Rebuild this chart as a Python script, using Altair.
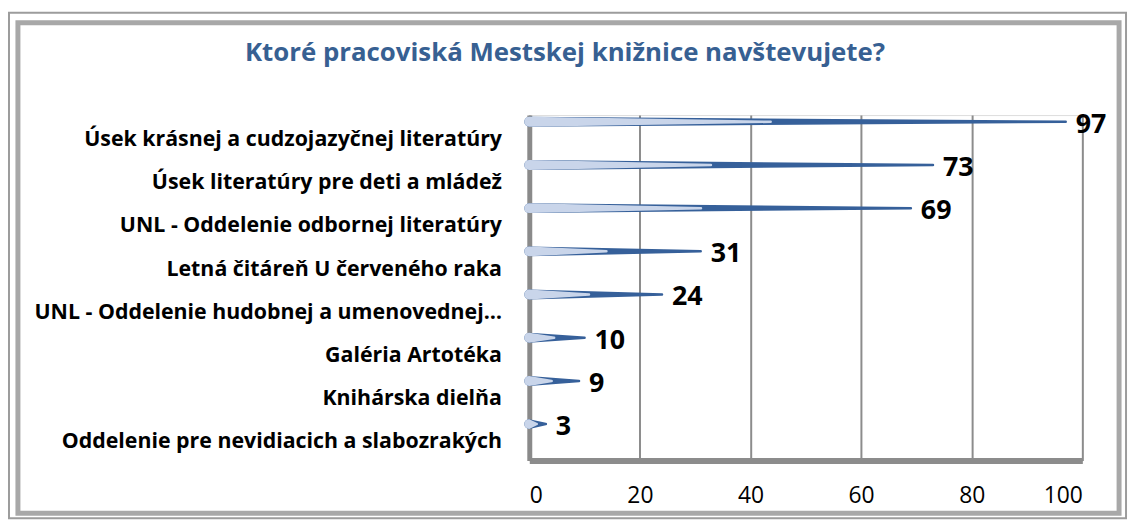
import altair as alt
import pandas as pd

title_text = "Ktoré pracoviská Mestskej knižnice navštevujete?"
categories = [
    "Úsek krásnej a cudzojazyčnej literatúry",
    "Úsek literatúry pre deti a mládež",
    "UNL - Oddelenie odbornej literatúry",
    "Letná čitáreň U červeného raka",
    "UNL - Oddelenie hudobnej a umenovednej…",
    "Galéria Artotéka",
    "Knihárska dielňa",
    "Oddelenie pre nevidiacich a slabozrakých",
]
values = [97, 73, 69, 31, 24, 10, 9, 3]
x_ticks = [0, 20, 40, 60, 80, 100]

df = pd.DataFrame({"cat": categories, "val": values})
# two points per category for a tapered (cone-like) bar: start (s=0) and tip (s=1)
trail_df = pd.concat([df.assign(s=0), df.assign(s=1)], ignore_index=True)

FONT = "Open Sans"
W, H = 557, 348

ysc = alt.Y("cat:N", sort=categories, title=None,
            scale=alt.Scale(paddingInner=0, paddingOuter=0),
            axis=alt.Axis(domain=True, domainColor="#8A8A8A", domainWidth=5,
                          ticks=False, grid=False, labelFont=FONT, labelFontSize=21.5,
                          labelFontWeight="bold", labelColor="#000000",
                          labelPadding=28, labelLimit=0, labelOffset=3))

xscale = alt.Scale(domain=[0, 100], nice=False)
xaxis = alt.Axis(values=x_ticks, grid=True, gridColor="#8C8C8C", gridWidth=2,
                 domain=True, domainColor="#8C8C8C", domainWidth=6, ticks=False,
                 labelFont=FONT, labelFontSize=23, labelColor="#000000",
                 labelPadding=24, title=None)

base = alt.Chart(trail_df)

outer = base.transform_calculate(xv="datum.s * datum.val").mark_trail(
    color="#36609A", yOffset=-15
).encode(
    x=alt.X("xv:Q", scale=xscale, axis=xaxis),
    y=ysc,
    size=alt.Size("s:Q", scale=alt.Scale(domain=[0, 1], range=[10, 2.5]), legend=None),
    order=alt.Order("s:Q"),
    detail="cat:N",
)

inner = base.transform_calculate(xv="datum.s * datum.val * 0.45").mark_trail(
    color="#C9D5EA", yOffset=-15
).encode(
    x=alt.X("xv:Q", scale=xscale),
    y=alt.Y("cat:N", sort=categories),
    size=alt.Size("s:Q", scale=alt.Scale(domain=[0, 1], range=[5, 0.5]), legend=None),
    order=alt.Order("s:Q"),
    detail="cat:N",
)

labels = alt.Chart(df).mark_text(
    align="left", baseline="middle", dx=10, yOffset=-12,
    font=FONT, fontSize=27, fontWeight="bold", color="#000000"
).encode(
    x=alt.X("val:Q", scale=xscale),
    y=alt.Y("cat:N", sort=categories),
    text="val:Q",
)

title = alt.Chart(pd.DataFrame({"t": [title_text]})).mark_text(
    align="center", baseline="middle", font=FONT, fontSize=26,
    fontWeight="bold", color="#376092"
).encode(x=alt.value(36), y=alt.value(-62), text="t:N")

frame_outer = alt.Chart(pd.DataFrame({"t": [title_text]})).mark_rect(
    fillOpacity=0, stroke="#9C9C9C", strokeWidth=2, clip=False
).encode(x=alt.value(-524), x2=alt.value(601), y=alt.value(-103), y2=alt.value(406))

frame_inner = alt.Chart(pd.DataFrame({"t": [title_text]})).mark_rect(
    fillOpacity=0, stroke="#A8A8A8", strokeWidth=5, clip=False
).encode(x=alt.value(-515), x2=alt.value(594), y=alt.value(-93), y2=alt.value(401))

chart = alt.layer(frame_outer, frame_inner, title, outer, inner, labels).properties(
    width=W, height=H,
    padding={"left": 525, "top": 106, "right": 47, "bottom": 60},
    autosize=alt.AutoSizeParams(type="none"),
).configure_view(fill="#E8EDF7", stroke=None).configure(background="#FFFFFF")

chart.save("out.html", embed_options={"renderer": "svg", "actions": False})
